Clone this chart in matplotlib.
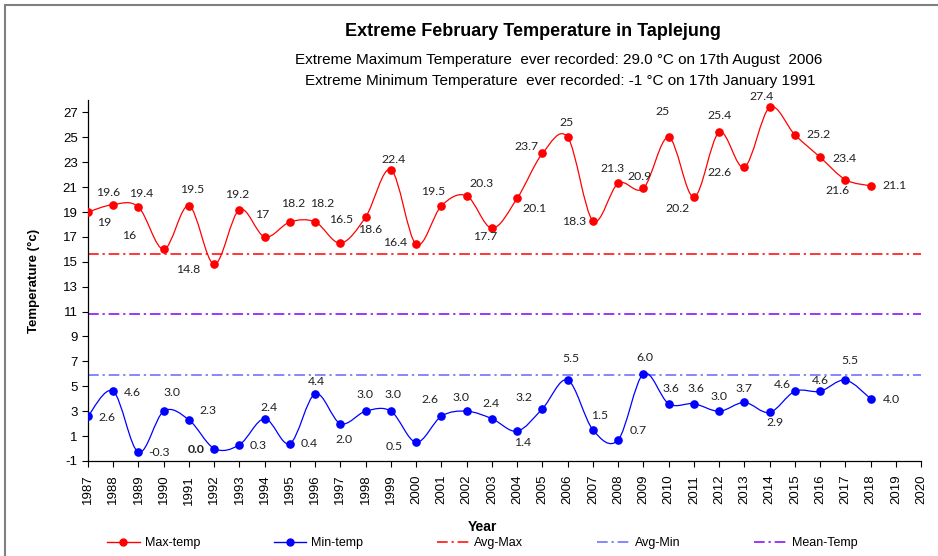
import numpy as np
import matplotlib.pyplot as plt
from matplotlib.path import Path
from matplotlib.patches import PathPatch, Rectangle
from matplotlib.lines import Line2D

# ----------------------------
# data
# ----------------------------
years = list(range(1987, 2019))
max_temp = [19.0, 19.6, 19.4, 16.0, 19.5, 14.8, 19.2, 17.0, 18.2, 18.2, 16.5,
            18.6, 22.4, 16.4, 19.5, 20.3, 17.7, 20.1, 23.7, 25.0, 18.3, 21.3,
            20.9, 25.0, 20.2, 25.4, 22.6, 27.4, 25.2, 23.4, 21.6, 21.1]
min_temp = [2.6, 4.6, -0.3, 3.0, 2.3, 0.0, 0.3, 2.4, 0.4, 4.4, 2.0,
            3.0, 3.0, 0.5, 2.6, 3.0, 2.4, 1.4, 3.2, 5.5, 1.5, 0.7,
            6.0, 3.6, 3.6, 3.0, 3.7, 2.9, 4.6, 4.6, 5.5, 4.0]
avg_max = 15.6
avg_min = 5.9
mean_temp = 10.8

# label offsets in pixels (dx right, dy down) - Excel put them all over the place
max_off = [(16, 10), (-5, -12), (3, -14), (-35, -14), (3, -16), (-26, 5), (-2, -15),
           (-3, -22), (3, -18), (7, -18), (1, -24), (4, 13), (3, -10), (-21, -2),
           (-8, -14), (15, -12), (-7, 8), (17, 10), (-16, -7), (-1, -15), (-19, 1),
           (-6, -15), (-4, -12), (-6, -26), (-16, 11), (0, -17), (-25, 5), (-8, -11),
           (24, 0), (24, 1), (-8, 11), (24, 0)]
min_off = [(19, 1), (19, 1), (21, 0), (8, -19), (19, -9), (-18, 1), (19, 1),
           (4, -11), (19, 0), (1, -12), (4, 16), (-1, -17), (2, -17), (-22, 4),
           (-11, -17), (-6, -14), (-1, -15), (5, 11), (-18, -11), (3, -22), (7, -14),
           (20, -9), (1, -16), (2, -15), (2, -15), (0, -15), (0, -14), (5, 10),
           (-13, -7), (0, -11), (5, -20), (21, 1)]

RED = "#ff0000"
BLUE = "#0000ff"

plt.rcParams['font.family'] = ['Liberation Sans', 'DejaVu Sans']
plt.rcParams['axes.unicode_minus'] = False


def smooth_path(x, y):
    # excel-style smoothed line: cubic bezier through the points
    pts = np.column_stack([np.asarray(x, float), np.asarray(y, float)])
    n = len(pts)
    verts = [pts[0]]
    codes = [Path.MOVETO]
    for i in range(n - 1):
        p0 = pts[i - 1] if i > 0 else pts[i]
        p1, p2 = pts[i], pts[i + 1]
        p3 = pts[i + 2] if i + 2 < n else pts[i + 1]
        verts += [p1 + (p2 - p0) / 6.0, p2 - (p3 - p1) / 6.0, p2]
        codes += [Path.CURVE4] * 3
    return Path(verts, codes)


fig = plt.figure(figsize=(9.38, 5.56), dpi=100)
ax = fig.add_axes([0.0938, 0.1709, 0.8882, 0.6493])

dash = (0, (7, 2.5, 1.5, 2.5))
ax.axhline(avg_max, color=RED, lw=1.1, ls=dash, zorder=1)
ax.axhline(mean_temp, color="#8000ff", lw=1.1, ls=dash, zorder=1)
ax.axhline(avg_min, color="#6666ff", lw=1.1, ls=dash, zorder=1)

ax.add_patch(PathPatch(smooth_path(years, max_temp), fill=False, ec=RED, lw=0.9, zorder=2))
ax.add_patch(PathPatch(smooth_path(years, min_temp), fill=False, ec=BLUE, lw=0.9, zorder=2))
ax.plot(years, max_temp, ls="none", marker="o", ms=5.2, color=RED, zorder=3)
ax.plot(years, min_temp, ls="none", marker="o", ms=5.2, color=BLUE, zorder=3)

lab_font = dict(fontsize=8.8, family=['Lato', 'DejaVu Sans'], color="#222222",
                ha="center", va="center")
for yr, v, (dx, dy) in zip(years, max_temp, max_off):
    ax.annotate(f"{v:g}", (yr, v), xytext=(dx, -dy), textcoords="offset pixels", **lab_font)
for yr, v, (dx, dy) in zip(years, min_temp, min_off):
    ax.annotate(f"{v:.1f}", (yr, v), xytext=(dx, -dy), textcoords="offset pixels",
                fontweight="bold" if yr == 1992 else "normal", **lab_font)

ax.set_xlim(1987, 2020)
ax.set_ylim(-1, 28)
ax.set_xticks(range(1987, 2021))
ax.set_xticklabels([str(y) for y in range(1987, 2021)], rotation=90)
ax.set_yticks(range(-1, 28, 2))
ax.tick_params(axis="both", direction="out", length=4, width=0.8, labelsize=9.5)
ax.tick_params(axis="x", pad=6)
for s in ["top", "right"]:
    ax.spines[s].set_visible(False)
for s in ["left", "bottom"]:
    ax.spines[s].set_linewidth(0.9)

ax.set_ylabel("Temperature (°c)", fontsize=9.5, fontweight="bold", labelpad=16)
fig.text(0.514, 0.053, "Year", ha="center", va="center", fontsize=10, fontweight="bold")

fig.text(0.568, 0.944, "Extreme February Temperature in Taplejung",
         ha="center", va="center", fontsize=13, fontweight="bold")
fig.text(0.596, 0.892, "Extreme Maximum Temperature  ever recorded: 29.0 °C on 17th August  2006",
         ha="center", va="center", fontsize=11)
fig.text(0.597, 0.854, "Extreme Minimum Temperature  ever recorded: -1 °C on 17th January 1991",
         ha="center", va="center", fontsize=11)

handles = [
    Line2D([], [], color=RED, lw=1, marker="o", ms=5),
    Line2D([], [], color=BLUE, lw=1, marker="o", ms=5),
    Line2D([], [], color=RED, lw=1.1, ls=dash),
    Line2D([], [], color="#6666ff", lw=1.1, ls=dash),
    Line2D([], [], color="#8000ff", lw=1.1, ls=dash),
]
fig.legend(handles, ["Max-temp", "Min-temp", "Avg-Max", "Avg-Min", "Mean-Temp"],
           loc="center", bbox_to_anchor=(0.514, 0.023), ncol=5, frameon=False,
           fontsize=9, handlelength=2.6, handletextpad=0.4, columnspacing=5.9)

# grey frame round the chart area
fig.patches.append(Rectangle((5 / 938, -0.02), 1.0, 1.0 - 5 / 556 + 0.02, transform=fig.transFigure,
                             fill=False, ec="#808080", lw=1.5))

fig.savefig("out.png", dpi=100)
